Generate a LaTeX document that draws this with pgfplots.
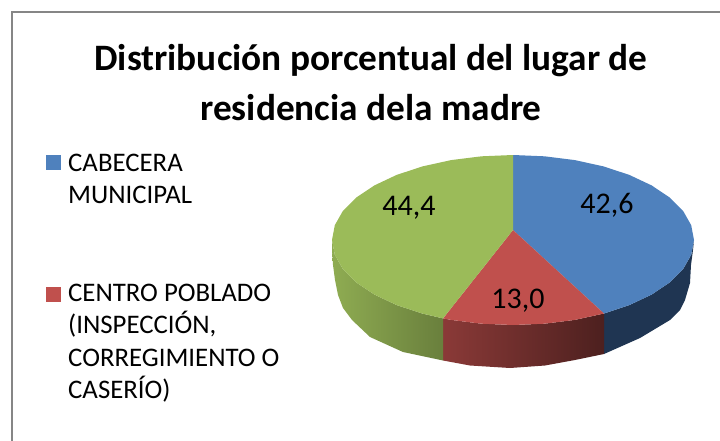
\documentclass[border=0pt]{standalone}
\usepackage{pgfplots}
\pgfplotsset{compat=1.18}
\usepackage{fontspec}
\setmainfont{Carlito}
\definecolor{cb}{HTML}{4F81BD}
\definecolor{cr}{HTML}{C0504D}
\definecolor{cg}{HTML}{9BBB59}
\definecolor{sb}{HTML}{1F3552}
\definecolor{fr}{HTML}{868686}
\begin{document}
\begin{tikzpicture}[x=1pt,y=1pt]
\path[use as bounding box] (0,0) rectangle (720pt,441pt);
\begin{axis}[at={(0,0)},anchor=south west,width=720pt,height=441pt,scale only axis,
 xmin=0,xmax=720,ymin=0,ymax=441,y dir=reverse,axis lines=none,clip=true]
% frame
\addplot[draw=fr,line width=2pt] coordinates {(11.5,441) (11.5,12) (720,12)};
% sides
\addplot[fill=sb,draw=none] coordinates {(694,240) (693,250) (691,265) (690,283) (685,300) (680,310) (670,320) (640,338) (604,354) (604,313.5) (629.3,305.1) (651.6,294.6) (669.7,282.5) (683.1,269.1) (691.2,254.8) (694,240)};
\addplot[left color=cr!72!black,right color=cr!40!black,draw=none] coordinates {(443,318.4) (451.1,319.9) (481.6,323.7) (513,325) (544.4,323.7) (574.9,319.9) (604,313.5) (604,354) (575,360) (545,365.5) (510,368) (470,365.5) (443,360.5)};
\addplot[left color=cg!92!black,right color=cg!68!black,draw=none] coordinates {(332,240) (334.8,254.8) (342.9,269.1) (356.3,282.5) (374.4,294.6) (396.7,305.1) (422.5,313.6) (443,318.4) (443,360.5) (403,352) (370,337) (352,320) (343,308) (338,295) (335,280) (333,265) (332,250) (332,240)};
% tops
\addplot[fill=cb,draw=none] coordinates {(513,230) (513,155) (544.4,156.3) (574.9,160.1) (603.5,166.4) (629.3,174.9) (651.6,185.4) (669.7,197.5) (683.1,210.9) (691.2,225.2) (694,240) (691.2,254.8) (683.1,269.1) (669.7,282.5) (651.6,294.6) (629.3,305.1) (604,313.5)};
\addplot[fill=cr,draw=none] coordinates {(513,230) (604,313.5) (574.9,319.9) (544.4,323.7) (513,325) (481.6,323.7) (451.1,319.9) (443,318.4)};
\addplot[fill=cg,draw=none] coordinates {(513,230) (443,318.4) (422.5,313.6) (396.7,305.1) (374.4,294.6) (356.3,282.5) (342.9,269.1) (334.8,254.8) (332,240) (334.8,225.2) (342.9,210.9) (356.3,197.5) (374.4,185.4) (396.7,174.9) (422.5,166.4) (451.1,160.1) (481.6,156.3) (513,155)};
% legend keys
\addplot[fill=cb,draw=none] coordinates {(46,155) (61,155) (61,170) (46,170)};
\addplot[fill=cr,draw=none] coordinates {(46,287) (61,287) (61,302) (46,302)};
% text
\node[anchor=center,align=center,font=\fontsize{37.3}{50}\selectfont\bfseries] at (axis cs:371,83) {Distribución porcentual del lugar de\\residencia dela madre};
\node[anchor=west,align=left,font=\fontsize{26.8}{32.5}\selectfont,inner sep=0pt] at (axis cs:68,179) {CABECERA\\MUNICIPAL};
\node[anchor=west,align=left,font=\fontsize{26.8}{32.5}\selectfont,inner sep=0pt] at (axis cs:68,343) {CENTRO POBLADO\\(INSPECCIÓN,\\CORREGIMIENTO O\\CASERÍO)};
\node[font=\fontsize{30}{30}\selectfont] at (axis cs:409,208) {44,4};
\node[font=\fontsize{30}{30}\selectfont] at (axis cs:607,205) {42,6};
\node[font=\fontsize{30}{30}\selectfont] at (axis cs:518,301) {13,0};
\end{axis}
\end{tikzpicture}
\end{document}
